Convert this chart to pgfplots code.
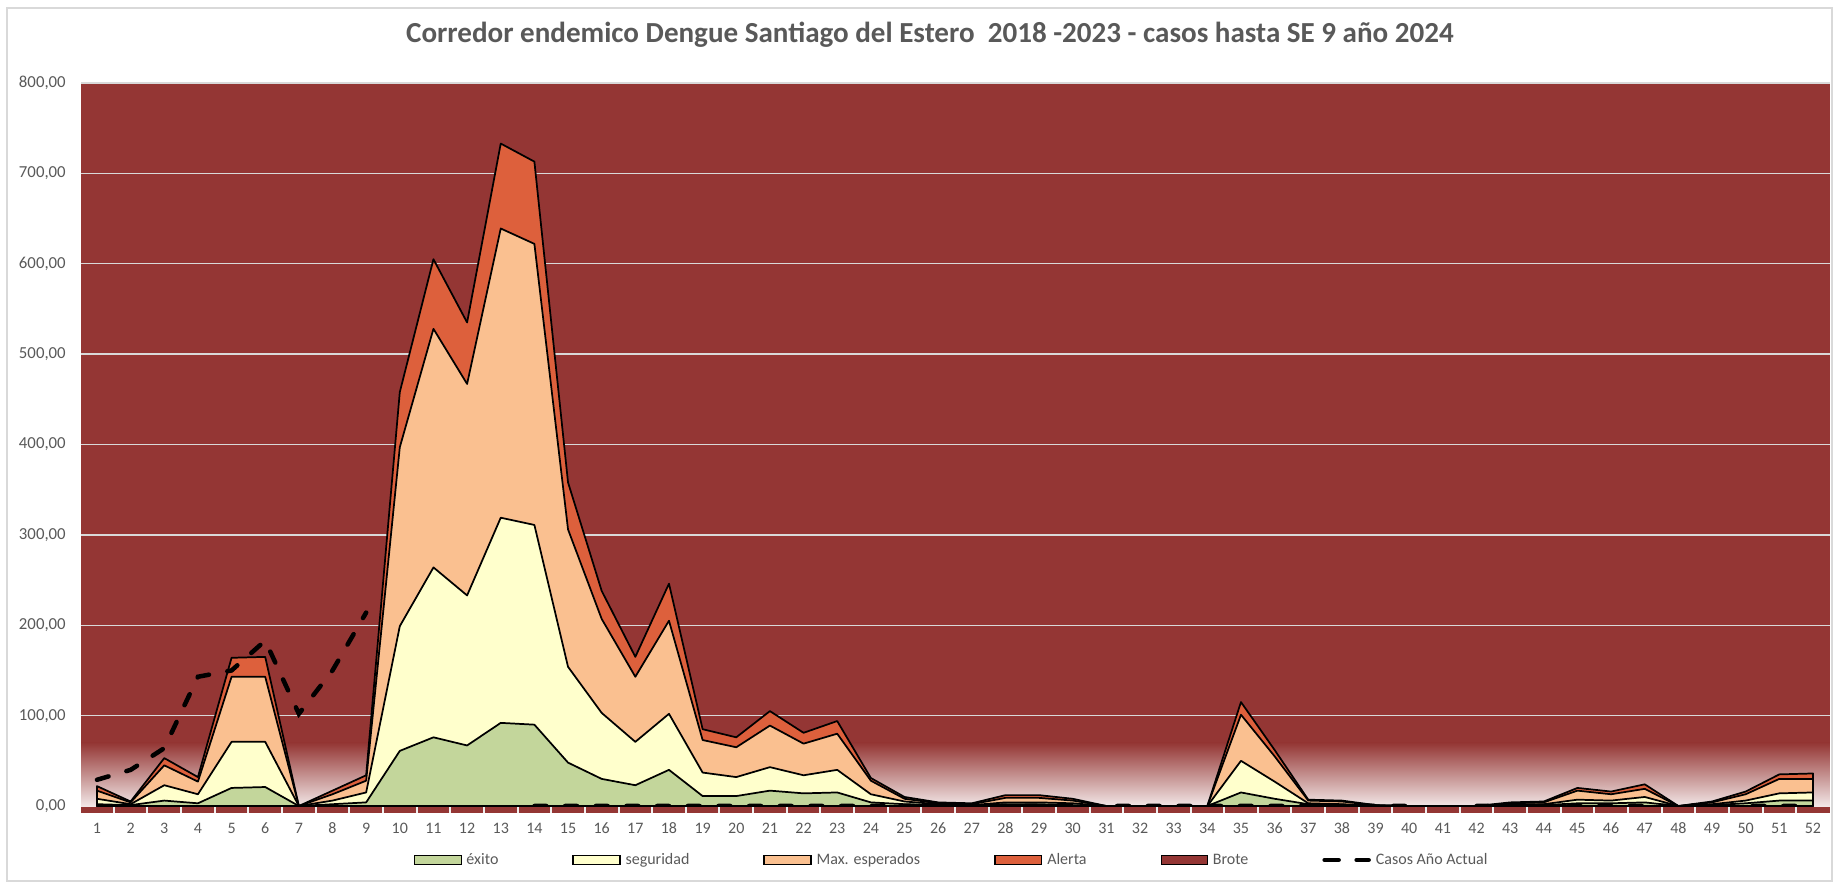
\documentclass[border=0pt]{standalone}
\usepackage{pgfplots}
\usepackage{pgfplotstable}
\pgfplotsset{compat=1.18}
\usepackage{fontspec}
\setmainfont{Carlito}
\definecolor{brote}{HTML}{943634}
\definecolor{alerta}{HTML}{DD603C}
\definecolor{maxesp}{HTML}{FAC090}
\definecolor{segur}{HTML}{FFFFCC}
\definecolor{exito}{HTML}{C3D69B}
\definecolor{txtgray}{HTML}{595959}
\definecolor{gridc}{HTML}{D9D9D9}

\pgfplotsset{
 layers/mylayers/.define layer set={axis background,axis grid,pre main,main,axis lines,axis ticks,axis tick labels,axis descriptions,axis foreground}{
   grid style={/pgfplots/on layer=axis grid},
   tick style={/pgfplots/on layer=axis ticks},
   axis line style={/pgfplots/on layer=axis lines},
   label style={/pgfplots/on layer=axis descriptions},
   legend style={/pgfplots/on layer=axis descriptions},
   title style={/pgfplots/on layer=axis descriptions},
   colorbar style={/pgfplots/on layer=axis descriptions},
   ticklabel style={/pgfplots/on layer=axis tick labels},
   axis background@ style={/pgfplots/on layer=axis background},
   3d box foreground style={/pgfplots/on layer=axis foreground},
 },
 swatch/.style={legend image code/.code={\draw[##1] (0pt,-3.5pt) rectangle (35pt,3.5pt);}},
 dashleg/.style={legend image code/.code={\draw[##1,dash pattern=on 10.5pt off 13.5pt] (1.5pt,0pt) -- (34.5pt,0pt);}},
}

\pgfplotstableread{
wk E S M A C
1 2 8 17 22 29
2 1 2 4 5 40
3 6 23 45 53 64
4 3 13 27 32 143
5 20 71 143 164 150
6 21 71 143 165 183
7 0 0 0 0 102
8 2 6 13 17 150
9 4 15 28 34 214
10 61 199 397 458 nan
11 76 264 528 605 nan
12 67 233 467 535 nan
13 92 319 639 733 nan
14 90 311 622 713 0
15 48 154 306 358 0
16 30 103 207 238 0
17 23 71 143 165 0
18 40 102 205 246 0
19 11 37 73 85 0
20 11 32 65 76 0
21 17 43 89 105 0
22 14 34 69 81 0
23 15 40 80 94 0
24 4 13 28 31 0
25 2 5 8 10 0
26 1 2 3 4 0
27 0.5 1 2 3 0
28 2 4 9 12 0
29 2 4 9 12 0
30 1 3 6 8 0
31 0 0 0 0 0
32 0 0 0 0 0
33 0 0 0 0 0
34 0 0 0 0 0
35 15 50 101 115 0
36 8 27 55 62 0
37 2 3 6 7 0
38 1 2 5 6 0
39 0.3 0.5 0.8 1 0
40 0 0 0 0 0
41 0 0 0 0 nan
42 0 0 0 0 0
43 1 2 3 4 0
44 1 2 4 5 0
45 3 7 17 20 0
46 3 6 13 16 0
47 4 10 19 24 0
48 0 0 0 0 0
49 1 2 4 5 0
50 3 6 13 16 0
51 6 14 30 35 0
52 6 15 30 36 0
}\data

\begin{document}
\begin{tikzpicture}
\path (0pt,0pt) rectangle (1379.25pt,-664.5pt);
\draw[gridc, line width=1.1pt] (5.25pt,-6pt) rectangle (1374pt,-660.75pt);
\begin{axis}[
  set layers=mylayers,
  at={(60.75pt,-607.5pt)}, anchor=south west,
  width=1311.75pt, height=545.25pt, scale only axis,
  xmin=0.525, xmax=52.505, ymin=-4.43, ymax=800,
  axis background/.style={fill=brote},
  axis lines*=left,
  x axis line style={brote, line width=4.5pt},
  y axis line style={draw=none},
  xtick={1,...,52},
  minor xtick={1.5,2.5,...,51.5},
  ytick={0,100,...,800},
  tick align=center,
  major tick length=0pt,
  minor tick length=4.5pt,
  minor x tick style={white!88!gray, line width=1.5pt},
  ymajorgrids,
  major grid style={gridc, line width=1.1pt},
  /pgf/number format/assume math mode=true,
  yticklabel={\pgfmathprintnumber[fixed,fixed zerofill,precision=2,use comma,1000 sep={}]{\tick}},
  ticklabel style={font=\fontsize{12}{14}\selectfont, text=txtgray},
  yticklabel style={anchor=east, inner sep=0pt, xshift=-11.25pt, font=\fontsize{12.6}{14}\selectfont},
  xticklabel style={anchor=center, inner sep=0pt, yshift=-13.5pt},
  title={Corredor endemico Dengue Santiago del Estero\ \ 2018 -2023 - casos hasta SE 9 año 2024},
  title style={font=\fontsize{21.8}{25}\selectfont\bfseries, text=txtgray, at={(0.4854,1.055)}, anchor=center},
  legend columns=6,
  legend cell align=left,
  legend style={at={(0.1904,-0.0688)}, anchor=west, draw=none, fill=none, inner sep=0pt,
    font=\fontsize{12}{14}\selectfont, text=txtgray,
    nodes={inner sep=0pt},
    /tikz/every odd column/.append style={column sep=3.75pt},
    /tikz/every even column/.append style={column sep=55.5pt}},
]
\addlegendimage{swatch, fill=exito, draw=none}
\addlegendentry{éxito}
\addlegendimage{swatch, fill=segur, draw=black, line width=1.1pt}
\addlegendentry{seguridad}
\addlegendimage{swatch, fill=maxesp, draw=black, line width=1.1pt}
\addlegendentry{Max. esperados}
\addlegendimage{swatch, fill=alerta, draw=black, line width=1.1pt}
\addlegendentry{Alerta}
\addlegendimage{swatch, fill=brote, draw=none}
\addlegendentry{Brote}
\addlegendimage{dashleg, black, line width=3.4pt, line cap=round}
\addlegendentry{Casos Año Actual}

\addplot[draw=none, top color=brote, bottom color=brote!12!white, forget plot] coordinates {(0.525,70) (52.505,70)} \closedcycle;

\addplot[fill=alerta, draw=black, line width=1.3pt, line join=round, forget plot] table[x=wk,y=A] {\data} \closedcycle;
\addplot[fill=maxesp, draw=black, line width=1.3pt, line join=round, forget plot] table[x=wk,y=M] {\data} \closedcycle;
\addplot[fill=segur, draw=black, line width=1.3pt, line join=round, forget plot] table[x=wk,y=S] {\data} \closedcycle;
\addplot[fill=exito, draw=black, line width=1.3pt, line join=round, forget plot] table[x=wk,y=E] {\data} \closedcycle;

\addplot[black, line width=3.4pt, line cap=round, dash pattern=on 9pt off 14pt, unbounded coords=jump, forget plot] table[x=wk,y=C] {\data};
\end{axis}
\pgfresetboundingbox
\path[use as bounding box] (0pt,0pt) rectangle (1379.25pt,-664.5pt);
\end{tikzpicture}
\end{document}
